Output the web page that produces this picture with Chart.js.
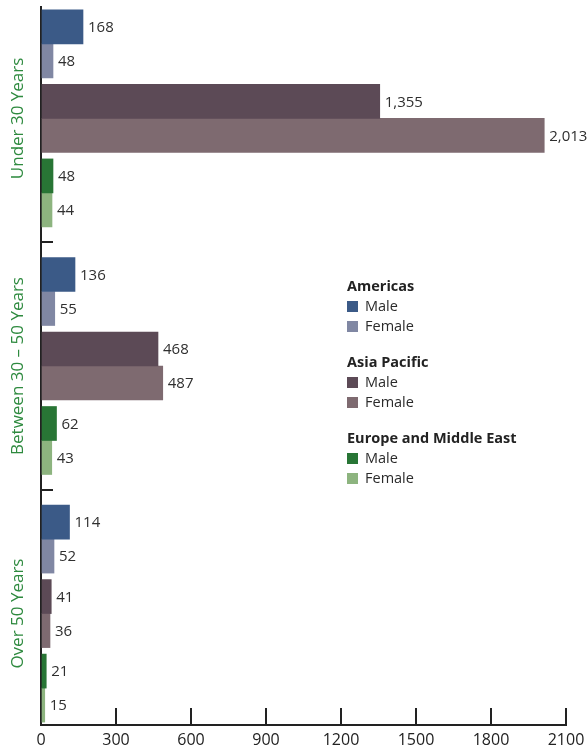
<!DOCTYPE html>
<html>
<head>
<meta charset="utf-8">
<script src="https://cdn.jsdelivr.net/npm/chart.js@4.4.1/dist/chart.umd.min.js"></script>
<style>
  body { margin: 0; background: #fff; }
  #wrap { position: relative; width: 587px; height: 754px; }
  #legend { position: absolute; left: 347px; top: 276px; font-family: 'Open Sans', sans-serif; color: #2b2b2b; }
  .lg-group { margin-bottom: 16px; }
  .lg-head { font-weight: 700; font-size: 14.5px; line-height: 20px; color: #222; }
  .lg-item { font-size: 14.5px; line-height: 20px; display: flex; align-items: center; }
  .lg-box { width: 11px; height: 11px; margin-right: 7px; }
</style>
</head>
<body>
<div id="wrap">
  <canvas id="chart" width="587" height="754"></canvas>
  <div id="legend"></div>
</div>
<script>
// categories and series
const categories = ['Under 30 Years', 'Between 30 \u2013 50 Years', 'Over 50 Years'];
const regions = ['Americas', 'Asia Pacific', 'Europe and Middle East'];
const genders = ['Male', 'Female'];

const americasMale = [168, 136, 114];
const americasFemale = [48, 55, 52];
const asiaMale = [1355, 468, 41];
const asiaFemale = [2013, 487, 36];
const europeMale = [48, 62, 21];
const europeFemale = [44, 43, 15];

const xTicks = [0, 300, 600, 900, 1200, 1500, 1800, 2100];

// styles
const colors = {
    axis: '#222222',
    category: '#2e8a3f',
    value: '#2f2f2f',
    bars: ['#3b5a87', '#8087a3', '#5c4a56', '#7e6a70', '#287535', '#8db47f']
};
const seriesValues = [americasMale, americasFemale, asiaMale, asiaFemale, europeMale, europeFemale];

// bar placement inside a category (pixels from the category centre)
const plotHeight = 718;
const yMin = -0.45, yMax = 2.45;
const pxPerUnit = plotHeight / (yMax - yMin);
const barOffsetsPx = [-91.5, -57.5, -17, 17, 57.5, 91.5];
const barThickness = 34;

Chart.defaults.font.family = "'Open Sans', sans-serif";

const datasets = seriesValues.map((vals, d) => ({
    label: regions[Math.floor(d / 2)] + ' ' + genders[d % 2],
    data: vals.map((v, i) => ({ x: v, y: i + barOffsetsPx[d] / pxPerUnit })),
    backgroundColor: colors.bars[d],
    borderWidth: 0,
    barThickness: barThickness,
    grouped: false
}));

const valueLabels = {
    id: 'valueLabels',
    afterDatasetsDraw(chart) {
        const ctx = chart.ctx;
        ctx.save();
        ctx.font = "15px 'Open Sans', sans-serif";
        ctx.fillStyle = colors.value;
        ctx.textAlign = 'left';
        ctx.textBaseline = 'middle';
        chart.data.datasets.forEach((ds, d) => {
            chart.getDatasetMeta(d).data.forEach((bar, i) => {
                ctx.fillText(ds.data[i].x.toLocaleString('en-US'), bar.x + 5, bar.y + 1);
            });
        });
        ctx.restore();
    }
};

const categoryLabels = {
    id: 'categoryLabels',
    afterDraw(chart) {
        const ctx = chart.ctx;
        const yScale = chart.scales.y;
        ctx.save();
        ctx.font = "17px 'Open Sans', sans-serif";
        ctx.fillStyle = colors.category;
        ctx.textAlign = 'center';
        ctx.textBaseline = 'middle';
        categories.forEach((cat, i) => {
            ctx.save();
            ctx.translate(18, yScale.getPixelForValue(i));
            ctx.rotate(-Math.PI / 2);
            ctx.fillText(cat, 0, 0);
            ctx.restore();
        });
        ctx.restore();
    }
};

new Chart(document.getElementById('chart'), {
    type: 'bar',
    data: { datasets: datasets },
    options: {
        responsive: false,
        animation: false,
        indexAxis: 'y',
        layout: { padding: { top: 7, right: 0, left: 0, bottom: 0 } },
        plugins: { legend: { display: false }, tooltip: { enabled: false } },
        scales: {
            x: {
                type: 'linear',
                min: 0,
                max: 2100,
                afterBuildTicks: s => { s.ticks = xTicks.map(v => ({ value: v })); },
                afterFit: s => { s.height = 29; s.paddingLeft = 0; s.paddingRight = 21; },
                ticks: {
                    font: { size: 16 }, color: colors.axis, padding: 23,
                    maxRotation: 0, autoSkip: false,
                    callback: v => String(v)
                },
                grid: { drawOnChartArea: false, tickLength: -17, color: colors.axis, lineWidth: 2 },
                border: { color: colors.axis, width: 2 }
            },
            y: {
                type: 'linear',
                reverse: true,
                offset: false,
                bounds: 'data',
                min: yMin,
                max: yMax,
                z: 1,
                afterBuildTicks: s => { s.ticks = [{ value: 0.5 }, { value: 1.5 }]; },
                afterFit: s => { s.width = 41; },
                ticks: { display: false },
                grid: { offset: false, drawOnChartArea: false, tickLength: -12, color: colors.axis, lineWidth: 2 },
                border: { color: colors.axis, width: 2 }
            }
        }
    },
    plugins: [valueLabels, categoryLabels]
});

// legend with region headings
const legend = document.getElementById('legend');
regions.forEach((region, r) => {
    const group = document.createElement('div');
    group.className = 'lg-group';
    const head = document.createElement('div');
    head.className = 'lg-head';
    head.textContent = region;
    group.appendChild(head);
    genders.forEach((g, k) => {
        const item = document.createElement('div');
        item.className = 'lg-item';
        const box = document.createElement('span');
        box.className = 'lg-box';
        box.style.background = colors.bars[r * 2 + k];
        item.appendChild(box);
        item.appendChild(document.createTextNode(g));
        group.appendChild(item);
    });
    legend.appendChild(group);
});
</script>
</body>
</html>
